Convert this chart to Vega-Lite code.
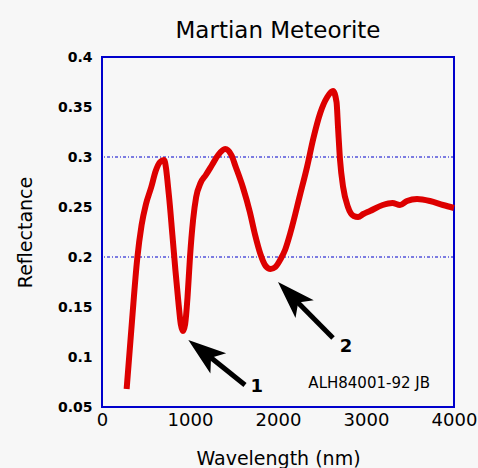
{
  "$schema": "https://vega.github.io/schema/vega-lite/v6.json",
  "width": 352,
  "height": 350,
  "autosize": {"type": "none"},
  "padding": {"left": 102, "top": 57, "right": 24, "bottom": 61},
  "background": "#f7f7f7",
  "title": {
    "text": "Martian Meteorite",
    "font": "DejaVu Sans",
    "fontSize": 23,
    "fontWeight": "normal",
    "color": "#000000",
    "anchor": "middle",
    "frame": "group",
    "baseline": "alphabetic",
    "offset": 11,
    "dy": 22
  },
  "config": {
    "view": {"stroke": "#0000cc", "strokeWidth": 2},
    "axis": {"domain": false, "ticks": false, "grid": false}
  },
  "datasets": {
    "spectrum": [
      {"wavelength": 280, "reflectance": 0.068},
      {"wavelength": 340, "reflectance": 0.135},
      {"wavelength": 400, "reflectance": 0.198},
      {"wavelength": 450, "reflectance": 0.232},
      {"wavelength": 500, "reflectance": 0.253},
      {"wavelength": 560, "reflectance": 0.270},
      {"wavelength": 610, "reflectance": 0.286},
      {"wavelength": 660, "reflectance": 0.295},
      {"wavelength": 705, "reflectance": 0.297},
      {"wavelength": 760, "reflectance": 0.262},
      {"wavelength": 800, "reflectance": 0.222},
      {"wavelength": 835, "reflectance": 0.186},
      {"wavelength": 868, "reflectance": 0.155},
      {"wavelength": 895, "reflectance": 0.133},
      {"wavelength": 920, "reflectance": 0.126},
      {"wavelength": 945, "reflectance": 0.133},
      {"wavelength": 972, "reflectance": 0.160},
      {"wavelength": 1000, "reflectance": 0.200},
      {"wavelength": 1035, "reflectance": 0.237},
      {"wavelength": 1070, "reflectance": 0.260},
      {"wavelength": 1120, "reflectance": 0.274},
      {"wavelength": 1180, "reflectance": 0.282},
      {"wavelength": 1250, "reflectance": 0.292},
      {"wavelength": 1320, "reflectance": 0.302},
      {"wavelength": 1400, "reflectance": 0.308},
      {"wavelength": 1470, "reflectance": 0.302},
      {"wavelength": 1520, "reflectance": 0.290},
      {"wavelength": 1600, "reflectance": 0.270},
      {"wavelength": 1680, "reflectance": 0.245},
      {"wavelength": 1740, "reflectance": 0.222},
      {"wavelength": 1800, "reflectance": 0.203},
      {"wavelength": 1860, "reflectance": 0.191},
      {"wavelength": 1915, "reflectance": 0.188},
      {"wavelength": 1970, "reflectance": 0.190},
      {"wavelength": 2030, "reflectance": 0.198},
      {"wavelength": 2080, "reflectance": 0.207},
      {"wavelength": 2140, "reflectance": 0.224},
      {"wavelength": 2250, "reflectance": 0.262},
      {"wavelength": 2330, "reflectance": 0.290},
      {"wavelength": 2400, "reflectance": 0.318},
      {"wavelength": 2480, "reflectance": 0.344},
      {"wavelength": 2560, "reflectance": 0.360},
      {"wavelength": 2625, "reflectance": 0.366},
      {"wavelength": 2665, "reflectance": 0.355},
      {"wavelength": 2682, "reflectance": 0.330},
      {"wavelength": 2705, "reflectance": 0.297},
      {"wavelength": 2740, "reflectance": 0.270},
      {"wavelength": 2795, "reflectance": 0.250},
      {"wavelength": 2860, "reflectance": 0.241},
      {"wavelength": 2910, "reflectance": 0.240},
      {"wavelength": 2970, "reflectance": 0.243},
      {"wavelength": 3045, "reflectance": 0.246},
      {"wavelength": 3190, "reflectance": 0.252},
      {"wavelength": 3300, "reflectance": 0.254},
      {"wavelength": 3386, "reflectance": 0.252},
      {"wavelength": 3466, "reflectance": 0.256},
      {"wavelength": 3580, "reflectance": 0.258},
      {"wavelength": 3727, "reflectance": 0.256},
      {"wavelength": 3875, "reflectance": 0.252},
      {"wavelength": 4000, "reflectance": 0.249}
    ],
    "gridlines": [{"level": 0.2}, {"level": 0.3}],
    "arrows": [
      {"id": "1", "tipX": 981, "tipY": 0.117, "shaftX": 1115, "shaftY": 0.108, "tailX": 1625, "tailY": 0.072, "labelX": 1758, "labelY": 0.070},
      {"id": "2", "tipX": 2000, "tipY": 0.175, "shaftX": 2119, "shaftY": 0.164, "tailX": 2625, "tailY": 0.119, "labelX": 2773, "labelY": 0.110}
    ],
    "note": [{"x": 3036, "y": 0.0743, "text": "ALH84001-92 JB"}]
  },
  "layer": [
    {
      "data": {"name": "gridlines"},
      "mark": {"type": "rule", "color": "#0000cc", "strokeWidth": 1, "strokeDash": [3, 2, 1, 2]},
      "encoding": {
        "y": {
          "field": "level", "type": "quantitative",
          "scale": {"domain": [0.05, 0.4], "nice": false, "zero": false},
          "axis": {
            "values": [0.05, 0.1, 0.15, 0.2, 0.25, 0.3, 0.35, 0.4], "format": "~g",
            "title": "Reflectance",
            "labelFont": "DejaVu Sans", "labelFontSize": 14, "labelFontWeight": "bold", "labelColor": "#000000", "labelPadding": 10,
            "labelFlush": false,
            "titleFont": "DejaVu Sans", "titleFontSize": 19, "titleFontWeight": "normal", "titleColor": "#000000", "titlePadding": 22
          }
        }
      }
    },
    {
      "data": {"name": "spectrum"},
      "mark": {"type": "line", "color": "#dd0000", "strokeWidth": 6, "interpolate": "monotone", "strokeCap": "butt", "strokeJoin": "round"},
      "encoding": {
        "x": {
          "field": "wavelength", "type": "quantitative",
          "scale": {"domain": [0, 4000], "nice": false, "zero": false},
          "axis": {
            "values": [0, 1000, 2000, 3000, 4000], "format": "d",
            "title": "Wavelength (nm)",
            "labelFont": "DejaVu Sans", "labelFontSize": 18, "labelColor": "#000000", "labelPadding": 4,
            "labelFlush": false,
            "titleFont": "DejaVu Sans", "titleFontSize": 19, "titleFontWeight": "normal", "titleColor": "#000000", "titlePadding": 20
          }
        },
        "y": {
          "field": "reflectance", "type": "quantitative",
          "scale": {"domain": [0.05, 0.4], "nice": false, "zero": false},
          "axis": {
            "values": [0.05, 0.1, 0.15, 0.2, 0.25, 0.3, 0.35, 0.4], "format": "~g",
            "title": "Reflectance",
            "labelFont": "DejaVu Sans", "labelFontSize": 14, "labelFontWeight": "bold", "labelColor": "#000000", "labelPadding": 10,
            "labelFlush": false,
            "titleFont": "DejaVu Sans", "titleFontSize": 19, "titleFontWeight": "normal", "titleColor": "#000000", "titlePadding": 22
          }
        }
      }
    },
    {
      "data": {"name": "arrows"},
      "mark": {"type": "rule", "color": "#000000", "strokeWidth": 5},
      "encoding": {
        "x": {"field": "shaftX", "type": "quantitative"},
        "y": {"field": "shaftY", "type": "quantitative"},
        "x2": {"field": "tailX"},
        "y2": {"field": "tailY"}
      }
    },
    {
      "data": {"name": "arrows"},
      "transform": [{"filter": "datum.id === '1'"}],
      "mark": {"type": "point", "shape": "M0,0 L0.32,0.95 L0,0.72 L-0.32,0.95 Z", "size": 6400, "angle": 308, "filled": true, "color": "#000000", "opacity": 1},
      "encoding": {
        "x": {"field": "tipX", "type": "quantitative"},
        "y": {"field": "tipY", "type": "quantitative"}
      }
    },
    {
      "data": {"name": "arrows"},
      "transform": [{"filter": "datum.id === '2'"}],
      "mark": {"type": "point", "shape": "M0,0 L0.32,0.95 L0,0.72 L-0.32,0.95 Z", "size": 6400, "angle": 315.5, "filled": true, "color": "#000000", "opacity": 1},
      "encoding": {
        "x": {"field": "tipX", "type": "quantitative"},
        "y": {"field": "tipY", "type": "quantitative"}
      }
    },
    {
      "data": {"name": "arrows"},
      "mark": {"type": "text", "font": "DejaVu Sans", "fontSize": 18, "fontWeight": "bold", "color": "#000000", "align": "center", "baseline": "middle"},
      "encoding": {
        "x": {"field": "labelX", "type": "quantitative"},
        "y": {"field": "labelY", "type": "quantitative"},
        "text": {"field": "id"}
      }
    },
    {
      "data": {"name": "note"},
      "mark": {"type": "text", "font": "DejaVu Sans", "fontSize": 15, "color": "#000000", "align": "center", "baseline": "middle"},
      "encoding": {
        "x": {"field": "x", "type": "quantitative"},
        "y": {"field": "y", "type": "quantitative"},
        "text": {"field": "text"}
      }
    }
  ]
}
